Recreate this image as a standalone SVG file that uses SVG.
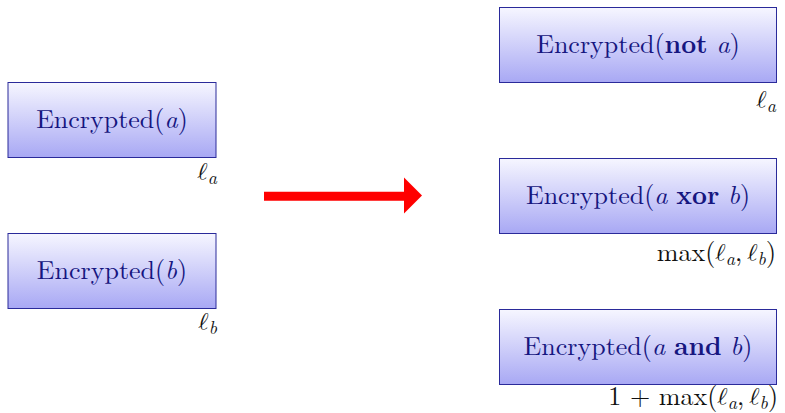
<svg xmlns="http://www.w3.org/2000/svg" width="785" height="413" viewBox="0 0 785 413">
<defs>
<linearGradient id="g" x1="0" y1="0" x2="0" y2="1">
<stop offset="0" stop-color="#f6f6ff"/>
<stop offset="1" stop-color="#a8a8f4"/>
</linearGradient>
<style>
.box{fill:url(#g);stroke:#2a2a9a;stroke-width:1}
.t{font-family:"Latin Modern Roman","Liberation Serif","DejaVu Serif",serif;font-size:26px;fill:#161680;text-anchor:middle}
.l{font-family:"Latin Modern Roman","Liberation Serif","DejaVu Serif",serif;font-size:26px;fill:#111;text-anchor:end}
.i{font-style:italic}
.e{font-family:"Latin Modern Math","DejaVu Serif",serif;font-style:normal;font-weight:normal;font-size:25px}
.b{font-weight:bold}
.s{font-size:18px;font-style:italic}
</style>
</defs>
<g id="node-a">
<rect class="box" x="8" y="82.5" width="208" height="75"/>
<text class="t" x="112" y="128">Encrypted(<tspan class="i">a</tspan>)</text>
<text class="l" x="217" y="180"><tspan class="e">ℓ</tspan><tspan class="s" dy="4">a</tspan></text>
</g>
<g id="node-b">
<rect class="box" x="8" y="233.5" width="208" height="75"/>
<text class="t" x="112" y="279">Encrypted(<tspan class="i">b</tspan>)</text>
<text class="l" x="217" y="330"><tspan class="e">ℓ</tspan><tspan class="s" dy="4">b</tspan></text>
</g>
<g id="node-not">
<rect class="box" x="499.5" y="7.5" width="277" height="75"/>
<text class="t" x="638" y="53">Encrypted(<tspan class="b">not</tspan> <tspan class="i">a</tspan>)</text>
<text class="l" x="776" y="108"><tspan class="e">ℓ</tspan><tspan class="s" dy="4">a</tspan></text>
</g>
<g id="node-xor">
<rect class="box" x="499.5" y="158.5" width="277" height="75"/>
<text class="t" x="638" y="204">Encrypted(<tspan class="i">a</tspan> <tspan class="b">xor</tspan> <tspan class="i">b</tspan>)</text>
<text class="l" x="776" y="261">max(<tspan class="e">ℓ</tspan><tspan class="s" dy="4">a</tspan><tspan dy="-4">,</tspan><tspan class="e" dx="5">ℓ</tspan><tspan class="s" dy="4">b</tspan><tspan dy="-4">)</tspan></text>
</g>
<g id="node-and">
<rect class="box" x="499.5" y="309.5" width="277" height="75"/>
<text class="t" x="638" y="355">Encrypted(<tspan class="i">a</tspan> <tspan class="b">and</tspan> <tspan class="i">b</tspan>)</text>
<text class="l" x="778" y="405">1 + max(<tspan class="e">ℓ</tspan><tspan class="s" dy="4">a</tspan><tspan dy="-4">,</tspan><tspan class="e" dx="5">ℓ</tspan><tspan class="s" dy="4">b</tspan><tspan dy="-4">)</tspan></text>
</g>
<g id="connectors">
<path d="M264 191.7 H404 V177.5 L422 195.5 L404 213.5 V200.7 H264 Z" fill="#ff0000"/>
</g>
</svg>
